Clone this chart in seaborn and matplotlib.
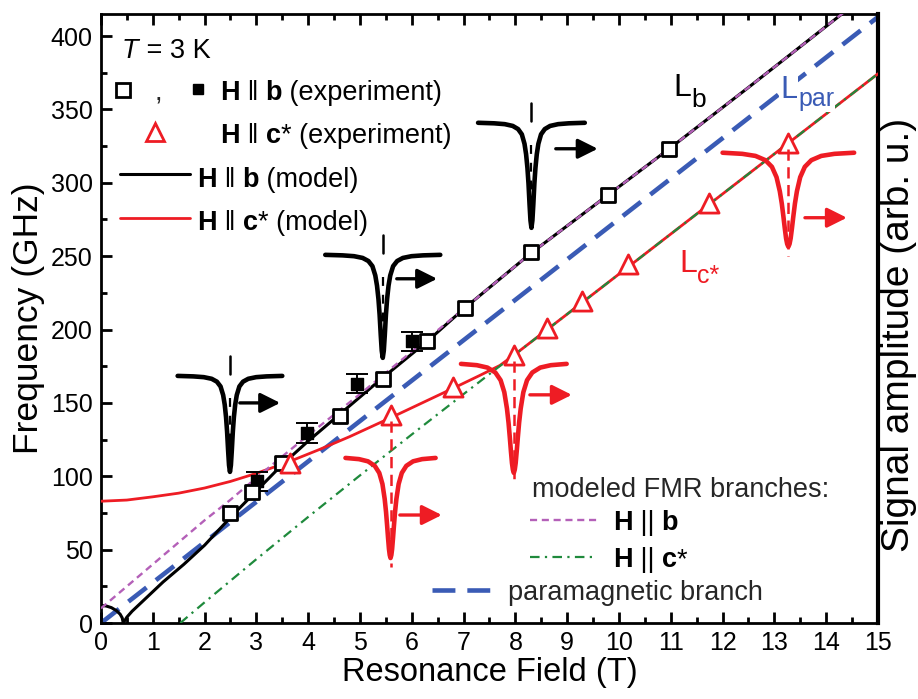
import matplotlib
matplotlib.use("Agg")
import matplotlib.pyplot as plt
import seaborn as sns
import pandas as pd
from matplotlib.ticker import MultipleLocator

# ---------------- data ----------------
# experiment, H || b : open squares
b_open_field = [2.49, 2.91, 3.49, 4.61, 5.44, 6.29, 7.03, 8.31, 9.79, 10.97]
b_open_freq = [75, 89.5, 109, 141, 166, 192, 215, 253, 292, 323]
# experiment, H || b : filled squares with error bars
b_filled_field = [3.01, 3.97, 4.94, 6.00]
b_filled_freq = [96.5, 129.5, 163, 192]
b_filled_err = [6.5, 6.5, 6.5, 6.5]
# experiment, H || c*
c_field = [3.64, 5.59, 6.80, 7.97, 8.61, 9.28, 10.18, 11.74, 13.27]
c_freq = [109, 141.5, 161, 182.5, 201, 219.5, 245, 286, 327]

# model H || b (black): low-field arc and main branch
model_b_arc_field = [0, 0.1, 0.2, 0.3, 0.37, 0.41, 0.43]
model_b_arc_freq = [12, 11.6, 10.5, 8.4, 6, 3.5, 0]
model_b_field = [0.43, 0.5, 0.6, 0.75, 0.9, 1.2, 1.6, 2.0, 2.5, 3.0, 3.5, 4.0, 4.6,
                 5.4, 6.3, 7.0, 8.3, 9.8, 11.0, 12.5, 14.5]
model_b_freq = [0, 4, 8, 13, 18, 28, 40, 53, 72, 90, 108, 124, 142,
                166, 192, 214, 252, 292, 324, 365, 420.5]
# model H || c* (red)
model_c_field = [0, 0.5, 1.0, 1.5, 2.0, 2.5, 3.0, 3.6, 4.2, 4.8, 5.6, 6.2, 6.8, 7.3,
                 7.7, 8, 9, 10, 12, 15]
model_c_freq = [83, 83.8, 86, 88.5, 92, 96.5, 102, 109.5, 118, 127, 140, 150, 160, 168.5,
                175.5, 183.3, 210.5, 237.8, 292.4, 374.3]
# modeled FMR branches
fmr_b_field = [0, 1, 2, 2.5, 3, 4, 5, 6, 7, 8.3, 9.8, 11.0, 12.5, 14.5]
fmr_b_freq = [10, 40, 70, 84, 99, 128, 156, 185, 214, 252, 292, 324, 365, 420.5]
fmr_c_field = [1.53, 2, 3, 4, 5, 6, 7, 8, 9, 10, 12, 15]
fmr_c_freq = [0, 14.1, 43.5, 72.3, 100.6, 128.5, 156, 183.3, 210.5, 237.8, 292.4, 374.3]
# paramagnetic branch
para_field = [0, 15]
para_freq = [0, 413]

spec_dx = [-1.0, -0.7, -0.5, -0.35, -0.25, -0.18, -0.13, -0.1, -0.075, -0.055, -0.035, -0.018, 0,
           0.018, 0.035, 0.055, 0.075, 0.1, 0.13, 0.18, 0.25, 0.35, 0.5, 0.7, 1.0]
spec_black = [0, -0.005, -0.013, -0.03, -0.06, -0.11, -0.2, -0.3, -0.43, -0.58, -0.78, -0.93, -1,
              -0.93, -0.78, -0.58, -0.43, -0.3, -0.2, -0.11, -0.06, -0.03, -0.013, -0.005, 0]
spec_red = [0, -0.012, -0.034, -0.079, -0.15, -0.26, -0.41, -0.54, -0.68, -0.80, -0.91, -0.97, -1,
            -0.97, -0.91, -0.80, -0.68, -0.54, -0.41, -0.26, -0.15, -0.079, -0.034, -0.012, 0]

# ---------------- style ----------------
sns.set_theme(style="ticks")
plt.rcParams['font.family'] = ['Liberation Sans', 'DejaVu Sans']

BLACK = '#000000'
RED = '#ee1c24'
BLUE = '#3a5bb5'
MAGENTA = '#b460b8'
GREEN = '#1f8a3c'

fig = plt.figure(figsize=(9.18, 6.99), dpi=100)
ax = fig.add_axes([0.1100, 0.1087, 0.8464, 0.8712])

# model curves
sns.lineplot(x=para_field, y=para_freq, ax=ax, color=BLUE, lw=3.3,
             linestyle=(0, (5, 2.6)), sort=False, estimator=None, zorder=2)
sns.lineplot(x=model_b_arc_field, y=model_b_arc_freq, ax=ax, color=BLACK, lw=2.2,
             sort=False, estimator=None, zorder=3)
sns.lineplot(x=model_b_field, y=model_b_freq, ax=ax, color=BLACK, lw=2.2,
             sort=False, estimator=None, zorder=3)
sns.lineplot(x=model_c_field, y=model_c_freq, ax=ax, color=RED, lw=2.0,
             sort=False, estimator=None, zorder=3)
sns.lineplot(x=fmr_b_field, y=fmr_b_freq, ax=ax, color=MAGENTA, lw=1.7,
             linestyle=(0, (3.0, 2.0)), sort=False, estimator=None, zorder=4)
sns.lineplot(x=fmr_c_field, y=fmr_c_freq, ax=ax, color=GREEN, lw=1.6,
             linestyle=(0, (4.3, 2.4, 1, 2.4)), sort=False, estimator=None, zorder=4)

# experimental points
ax.errorbar(b_filled_field, b_filled_freq, yerr=b_filled_err, fmt='none', ecolor=BLACK,
            elinewidth=1.4, capsize=8, capthick=1.4, zorder=5)
sns.scatterplot(x=b_filled_field, y=b_filled_freq, ax=ax, marker='s', s=64, color=BLACK,
                edgecolor=BLACK, linewidth=1, zorder=6)
sns.scatterplot(x=b_open_field, y=b_open_freq, ax=ax, marker='s', s=100, color='white',
                edgecolor=BLACK, linewidth=2, zorder=7)
sns.scatterplot(x=c_field, y=c_freq, ax=ax, marker='^', s=190, color='white',
                edgecolor=RED, linewidth=2, zorder=7)

# ---------------- inset spectra ----------------
# (kind, resonance field, baseline freq, depth, half width, arrow start, arrow end, arrow freq)
insets = [
    ('b', b_open_field[0], 168.4, 65.4, 1.01, 2.68, 3.46, 150.0),
    ('b', b_open_field[4], 250.9, 70.2, 1.11, 5.71, 6.49, 234.6),
    ('b', b_open_field[7], 340.9, 71.6, 1.03, 8.78, 9.59, 323.2),
    ('c', c_field[1], 112.5, 68.2, 0.87, 5.77, 6.58, 73.6),
    ('c', c_field[3], 176.6, 74.3, 1.02, 8.28, 9.09, 155.5),
    ('c', c_field[8], 320.5, 64.1, 1.27, 13.59, 14.40, 276.2),
]
for kind, xc, base, depth, half, a0, a1, ay in insets:
    prof = spec_black if kind == 'b' else spec_red
    col = BLACK if kind == 'b' else RED
    xs = [xc + d * half for d in spec_dx]
    ys = [base + p * depth for p in prof]
    ax.plot(xs, ys, color=col, lw=3.3, solid_joinstyle='round', solid_capstyle='round', zorder=8)
    if kind == 'b':
        ax.plot([xc, xc], [base + 1.5, base + 13.5], color=col, lw=1.8, zorder=8)
        ax.plot([xc, xc], [base - 15, base - depth + 5], color=col, lw=1.6,
                linestyle=(0, (4, 4)), zorder=8)
    else:
        idx = c_field.index(xc)
        ax.plot([xc, xc], [c_freq[idx] - 4, base - depth - 6], color=col, lw=1.8,
                linestyle=(0, (4.5, 2.6)), zorder=8)
    ax.annotate('', xy=(a1, ay), xytext=(a0, ay),
                arrowprops=dict(arrowstyle='-|>,head_length=1.0,head_width=0.5',
                                color=col, lw=2.4, shrinkA=0, shrinkB=0), zorder=8)

# ---------------- axes ----------------
ax.set_xlim(0, 15)
ax.set_ylim(0, 415)
ax.xaxis.set_major_locator(MultipleLocator(1))
ax.xaxis.set_minor_locator(MultipleLocator(0.5))
ax.yaxis.set_major_locator(MultipleLocator(50))
ax.yaxis.set_minor_locator(MultipleLocator(25))
ax.xaxis.set_ticks_position('both')
ax.tick_params(axis='x', which='both', direction='in', bottom=True, top=True,
               labelbottom=True, labeltop=False)
ax.tick_params(axis='y', which='both', direction='in', left=True, right=False,
               labelleft=True, labelright=False)
ax.tick_params(axis='both', which='both', labelsize=18, width=2.0, colors=BLACK)
ax.tick_params(which='major', length=8, pad=6)
ax.tick_params(which='minor', length=4.5)
for name, sp in ax.spines.items():
    sp.set_color(BLACK)
    sp.set_linewidth(2.0)
ax.spines['right'].set_linewidth(3.0)

ax.set_xlabel('Resonance Field (T)', fontsize=23.5, color=BLACK, labelpad=1)
ax.set_ylabel('Frequency (GHz)', fontsize=25.5, color=BLACK, labelpad=4)
ax.text(1.027, 0.473, 'Signal amplitude (arb. u.)', transform=ax.transAxes, rotation=90,
        fontsize=28, ha='center', va='center', color=BLACK)


def P(px, py):
    return ((px - 101) / 777.0, (623 - py) / 609.0)


def rich(px, py, parts, fs, color=BLACK):
    """Chain text pieces (text, weight, style) on a common baseline."""
    txt, w, st = parts[0]
    prev = ax.text(*P(px, py), txt, transform=ax.transAxes, fontsize=fs, fontweight=w,
                   fontstyle=st, va='baseline', ha='left', color=color)
    for txt, w, st in parts[1:]:
        prev = ax.annotate(txt, xy=(1, 0), xycoords=prev, fontsize=fs, fontweight=w,
                           fontstyle=st, va='bottom', ha='left', color=color)
    return prev


N, B, I = 'normal', 'bold', 'italic'
tA = ax.transAxes
FS = 19.5
# top-left legend
rich(122, 58, [('T', N, I), (' = 3 K', N, N)], FS)
ax.plot(*P(123, 90), transform=tA, marker='s', ms=9.5, mfc='white', mec=BLACK, mew=2)
ax.text(*P(155, 100), ',', transform=tA, fontsize=FS, va='baseline')
ax.plot(*P(198, 89), transform=tA, marker='s', ms=7.5, mfc=BLACK, mec=BLACK)
rich(220, 100, [('H', B, N), (' \u2016 ', N, N), ('b', B, N), (' (experiment)', N, N)], FS)
ax.plot(*P(155, 132), transform=tA, marker='^', ms=13, mfc='white', mec=RED, mew=2)
rich(220, 143, [('H', B, N), (' \u2016 ', N, N), ('c', B, N), ('* (experiment)', N, N)], FS)
x0, y0 = P(120, 174)
x1, _ = P(190, 174)
ax.plot([x0, x1], [y0, y0], transform=tA, color=BLACK, lw=2.2)
rich(197, 187, [('H', B, N), (' \u2016 ', N, N), ('b', B, N), (' (model)', N, N)], FS)
x0, y0 = P(120, 218)
ax.plot([x0, x1], [y0, y0], transform=tA, color=RED, lw=2.0)
rich(197, 230, [('H', B, N), (' \u2016 ', N, N), ('c', B, N), ('* (model)', N, N)], FS)

# bottom-right legend
ax.text(*P(532, 497), 'modeled FMR branches:', transform=tA, fontsize=FS, va='baseline')
x0, y0 = P(530, 520)
x1, _ = P(598, 520)
ax.plot([x0, x1], [y0, y0], transform=tA, color=MAGENTA, lw=1.7, linestyle=(0, (3.0, 2.0)))
rich(613, 530, [('H', B, N), (' || ', N, N), ('b', B, N)], FS)
x0, y0 = P(530, 557)
x1, _ = P(593, 557)
ax.plot([x0, x1], [y0, y0], transform=tA, color=GREEN, lw=1.6,
        linestyle=(0, (4.3, 2.4, 1, 2.4)))
rich(613, 567, [('H', B, N), (' || ', N, N), ('c', B, N), ('*', N, N)], FS)
x0, y0 = P(432, 590)
x1, _ = P(494, 590)
ax.plot([x0, x1], [y0, y0], transform=tA, color=BLUE, lw=3.3, linestyle=(0, (5, 2.6)))
ax.text(*P(508, 600), 'paramagnetic branch', transform=tA, fontsize=FS, va='baseline')

# branch labels
ax.text(*P(673, 96), 'L', transform=tA, fontsize=23, va='baseline', color=BLACK)
ax.text(*P(691, 107), 'b', transform=tA, fontsize=19, va='baseline', color=BLACK)
ax.text(*P(780, 98), 'L', transform=tA, fontsize=23, va='baseline', color=BLUE, zorder=9,
        bbox=dict(fc='white', ec='none', pad=0.5))
ax.text(*P(798, 106), 'par', transform=tA, fontsize=18, va='baseline', color=BLUE, zorder=9,
        bbox=dict(fc='white', ec='none', pad=0.5))
ax.text(*P(679, 272), 'L', transform=tA, fontsize=23, va='baseline', color=RED)
ax.text(*P(697, 283), 'c*', transform=tA, fontsize=18, va='baseline', color=RED)

fig.savefig('out.png', dpi=100, facecolor='white')
